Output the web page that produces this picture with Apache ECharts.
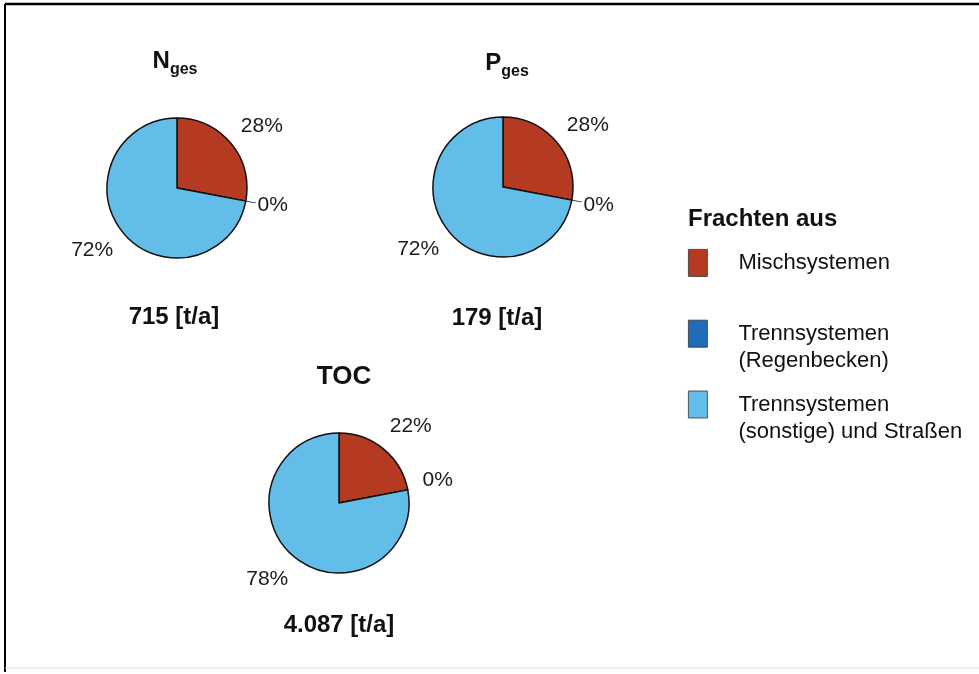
<!DOCTYPE html>
<html>
<head>
<meta charset="utf-8">
<script src="https://cdn.jsdelivr.net/npm/echarts@6/dist/echarts.min.js"></script>
<style>
  html, body { margin: 0; padding: 0; background: #fff; }
  #chart { width: 979px; height: 674px; }
</style>
</head>
<body>
<div id="chart"></div>
<script>
// Frachten je Quelle, Anteile in %
var categories = ["Mischsystemen", "Trennsystemen\n(Regenbecken)", "Trennsystemen\n(sonstige) und Straßen"];
var nGes = [28, 0, 72];
var pGes = [28, 0, 72];
var toc = [22, 0, 78];
var totals = ["715 [t/a]", "179 [t/a]", "4.087 [t/a]"];
var colors = ["#b43a21", "#1f6cb9", "#62bde9"];

var FONT = "'Liberation Sans', Arial, Helvetica, sans-serif";
var PIE_R = 70;
var LABEL_R = 105;
var LABEL_ROT = 3.5; // Grad, Beschriftung leicht im Uhrzeigersinn versetzt

var pies = [
  { main: "N", sub: "ges", values: nGes, total: totals[0], center: [177, 188], titlePos: [175, 61], totalPos: [174, 317], zeroLine: true, zeroShift: [0, 3] },
  { main: "P", sub: "ges", values: pGes, total: totals[1], center: [503, 187], titlePos: [507, 63], totalPos: [497, 318], zeroLine: true, zeroShift: [0, 4] },
  { main: "TOC", sub: "", values: toc, total: totals[2], center: [339, 503], titlePos: [344, 377], totalPos: [339, 625], zeroLine: false, zeroShift: [3, -8] }
];

var myChart = echarts.init(document.getElementById("chart"));

function makeLabelLayout(p) {
  return function (params) {
    var vals = p.values;
    var i = params.dataIndex;
    if (vals[i] === 0) {
      return p.zeroShift ? { dx: p.zeroShift[0], dy: p.zeroShift[1] } : {};
    }
    var sum = 0, before = 0;
    for (var k = 0; k < vals.length; k++) {
      sum += vals[k];
      if (k < i) before += vals[k];
    }
    var mid = (before + vals[i] / 2) / sum * Math.PI * 2 + LABEL_ROT * Math.PI / 180;
    return {
      x: p.center[0] + LABEL_R * Math.sin(mid),
      y: p.center[1] - LABEL_R * Math.cos(mid),
      align: "center",
      verticalAlign: "middle"
    };
  };
}

var series = pies.map(function (p) {
  return {
    type: "pie",
    center: p.center,
    radius: PIE_R,
    startAngle: 90,
    clockwise: true,
    avoidLabelOverlap: false,
    percentPrecision: 0,
    silent: true,
    itemStyle: { borderColor: "#111", borderWidth: 1.5 },
    label: {
      show: true,
      position: "outside",
      formatter: "{d}%",
      fontFamily: FONT,
      fontSize: 21,
      color: "#1a1a1a",
      distanceToLabelLine: 2
    },
    labelLine: { show: false, length: 8, length2: 2, lineStyle: { color: "#444", width: 1 } },
    labelLayout: makeLabelLayout(p),
    data: p.values.map(function (v, i) {
      var item = { name: categories[i], value: v, itemStyle: { color: colors[i] } };
      if (v === 0 && p.zeroLine) item.labelLine = { show: true };
      return item;
    })
  };
});

// Legendensymbol: Rechteck oben, Rest ist Platz fuer Abstand und zweite Zeile
var iconPath = "path://M0,0h19v27h-19zM45,54";

var graphics = [
  { type: "line", shape: { x1: 5, y1: 4, x2: 979, y2: 4 }, style: { stroke: "#000", lineWidth: 2.5 } },
  { type: "line", shape: { x1: 5, y1: 4, x2: 5, y2: 672 }, style: { stroke: "#000", lineWidth: 2 } },
  { type: "line", shape: { x1: 5, y1: 668, x2: 979, y2: 668 }, style: { stroke: "#ddd", lineWidth: 1 } },
  {
    type: "text", left: 688, top: 207,
    style: { text: "Frachten aus", font: "bold 24px " + FONT, fill: "#111" }
  }
];

pies.forEach(function (p) {
  graphics.push({
    type: "text",
    x: p.titlePos[0],
    y: p.titlePos[1],
    style: {
      text: "{m|" + p.main + "}" + (p.sub ? "{s|" + p.sub + "}" : ""),
      align: "center",
      verticalAlign: "middle",
      rich: {
        m: { fontFamily: FONT, fontWeight: "bold", fontSize: p.sub ? 24 : 26, lineHeight: 30, fill: "#111" },
        s: { fontFamily: FONT, fontWeight: "bold", fontSize: 16, lineHeight: 16, padding: [18, 0, 0, 0], fill: "#111" }
      }
    }
  });
  graphics.push({
    type: "text",
    x: p.totalPos[0],
    y: p.totalPos[1],
    style: {
      text: p.total,
      font: "bold 24px " + FONT,
      fill: "#111",
      align: "center",
      verticalAlign: "middle"
    }
  });
});

var option = {
  backgroundColor: "#fff",
  animation: false,
  legend: {
    orient: "vertical",
    left: 688,
    top: 249,
    padding: 0,
    itemWidth: 45,
    itemHeight: 54,
    itemGap: 16,
    selectedMode: false,
    itemStyle: { borderColor: "#333", borderWidth: 0.8 },
    formatter: function (name) {
      // einzeilige Eintraege oben am Symbol ausrichten
      return name.indexOf("\n") < 0 ? "{one|" + name + "}" : name;
    },
    textStyle: {
      fontFamily: FONT,
      fontSize: 22,
      lineHeight: 27,
      color: "#111",
      rich: {
        one: { fontFamily: FONT, fontSize: 22, lineHeight: 27, color: "#111", padding: [0, 0, 27, 0] }
      }
    },
    data: categories.map(function (c) { return { name: c, icon: iconPath }; })
  },
  graphic: graphics,
  series: series
};

myChart.setOption(option);
</script>
</body>
</html>
